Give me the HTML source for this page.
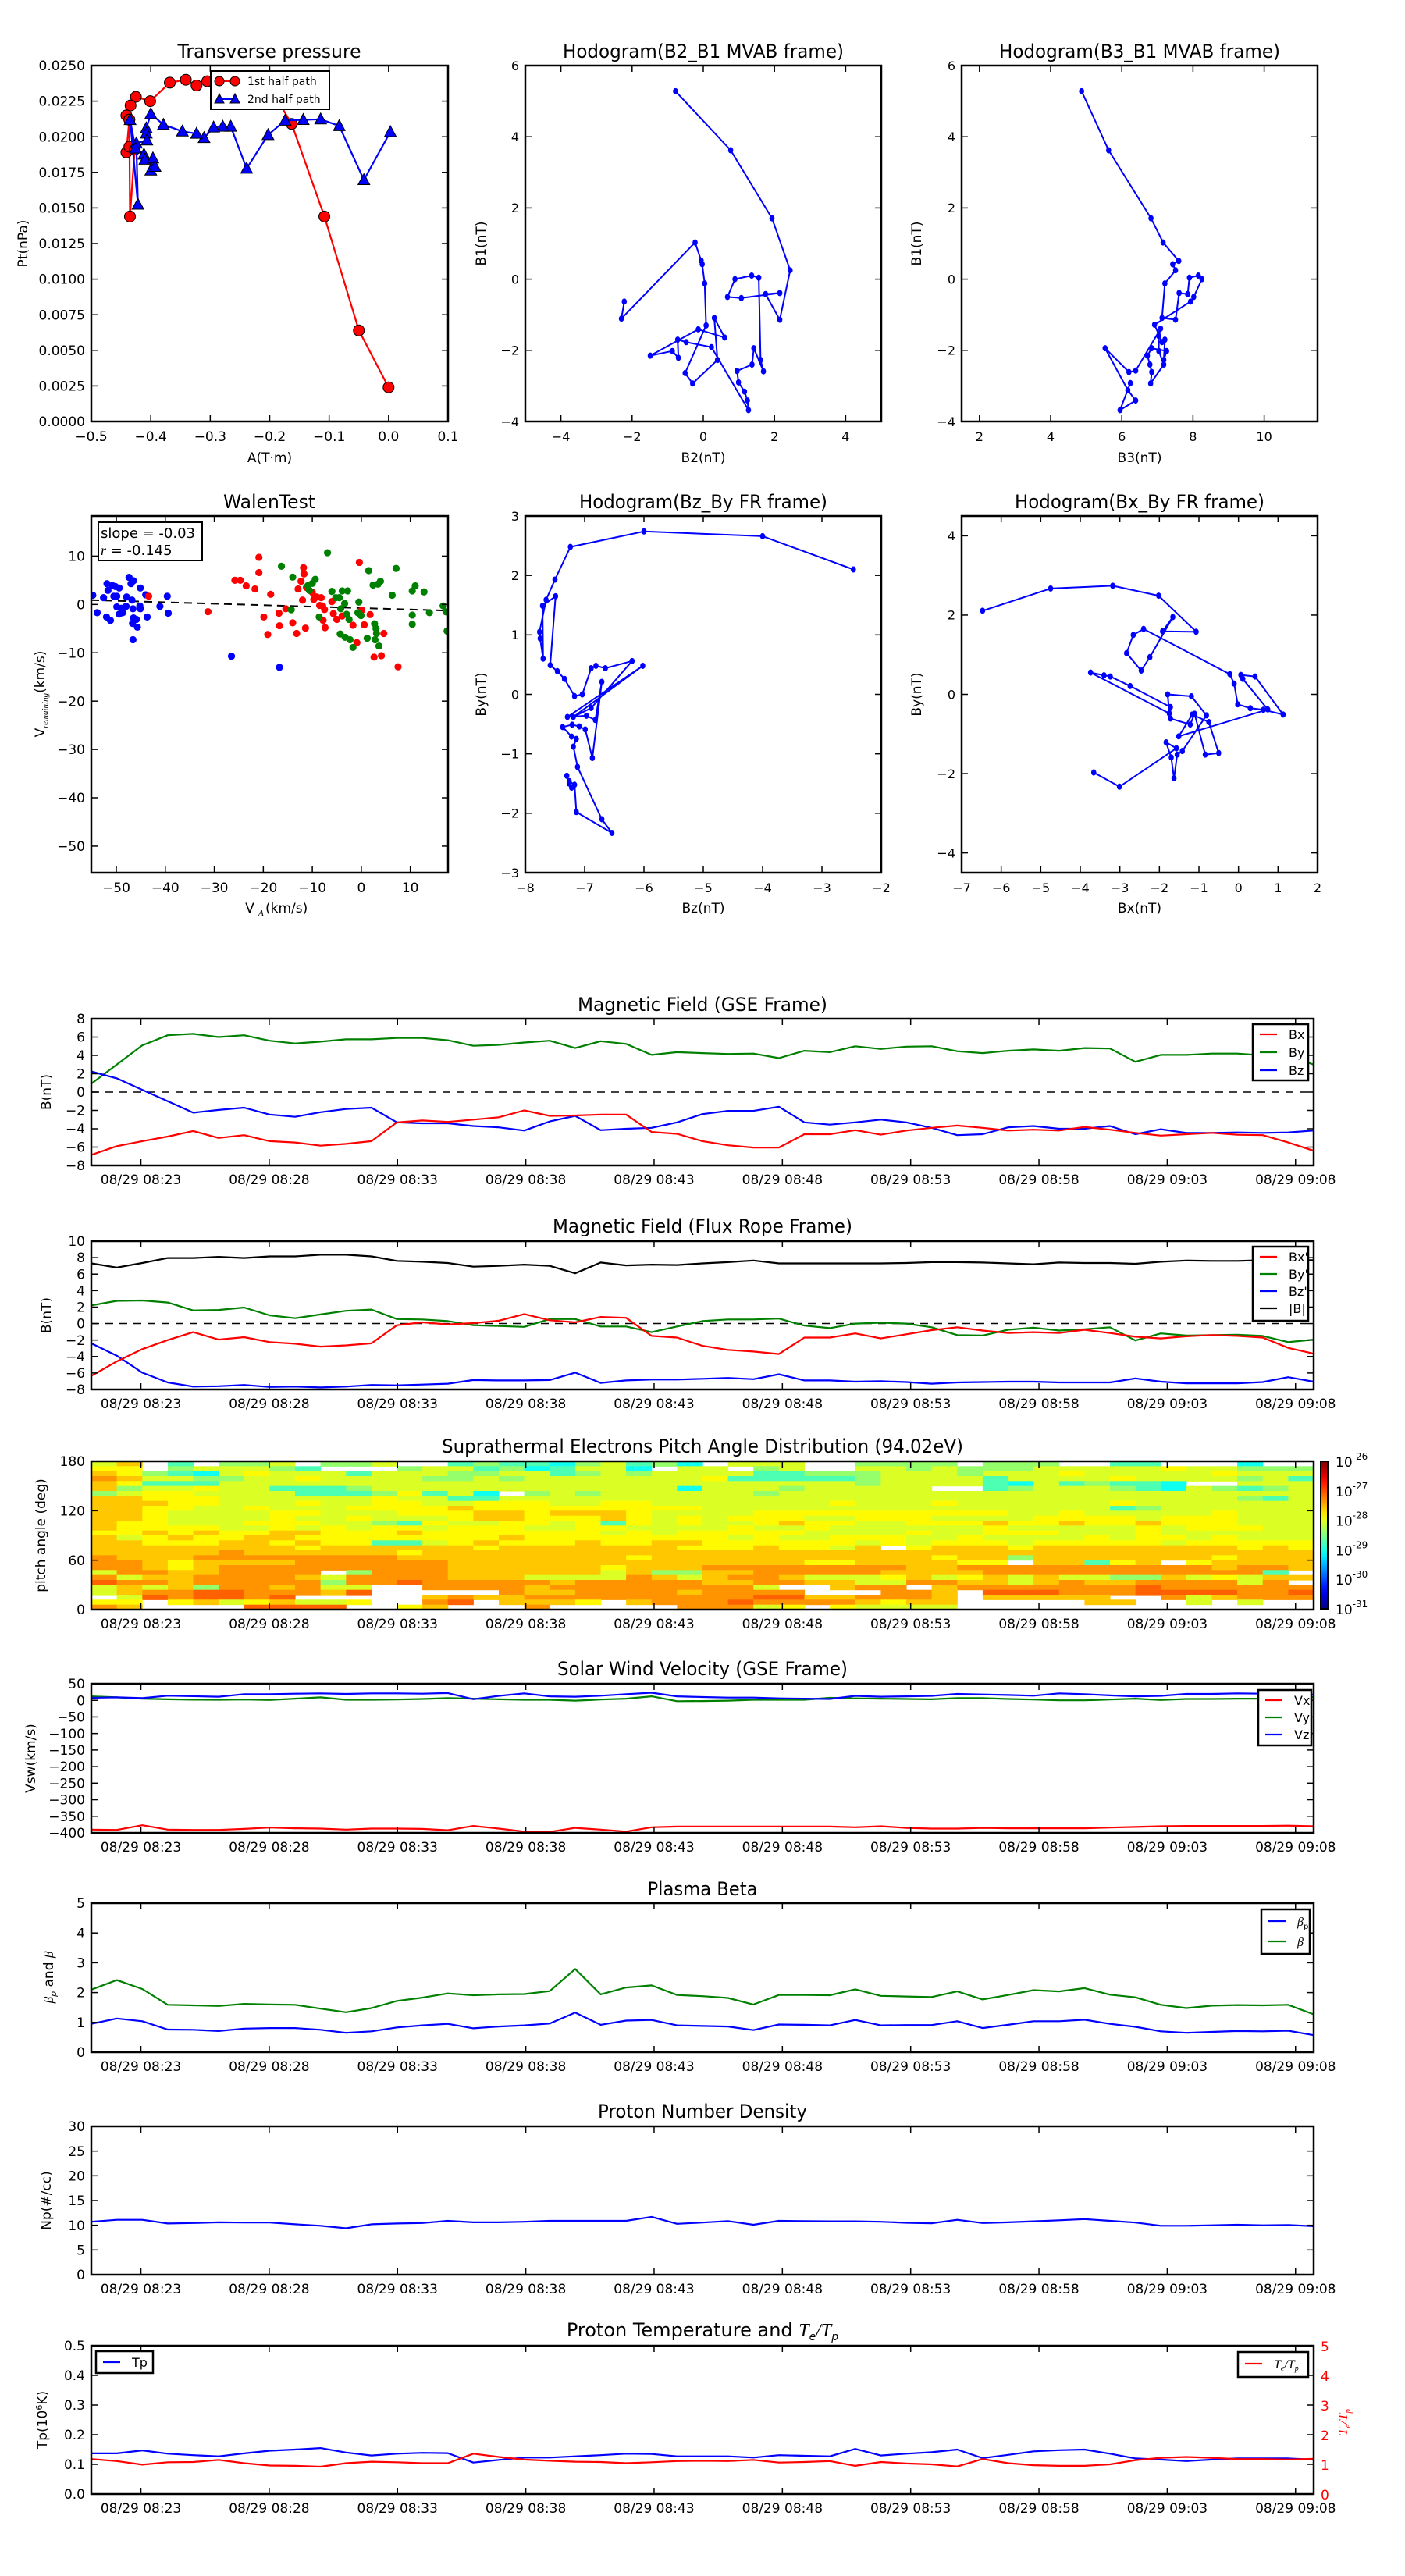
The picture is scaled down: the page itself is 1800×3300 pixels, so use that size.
<!DOCTYPE html>
<html><head><meta charset="utf-8"><title>Flux rope analysis</title>
<style>
html,body{margin:0;padding:0;background:#fff;}
svg{display:block;font-family:"DejaVu Sans","Liberation Sans",sans-serif;}
</style></head>
<body>
<svg id="fig" xmlns="http://www.w3.org/2000/svg" width="1800" height="3300" viewBox="0 0 1800 3300">
<rect x="0" y="0" width="1800" height="3300" fill="#fff"/>
<defs id="defs"></defs>
</svg>
<script>
// ---------- DATA ----------
const tsTickLabels = ['08/29 08:23','08/29 08:28','08/29 08:33','08/29 08:38','08/29 08:43','08/29 08:48','08/29 08:53','08/29 08:58','08/29 09:03','08/29 09:08'];
const tsTickMinutes = [503,508,513,518,523,528,533,538,543,548];
const gseBx = [-6.85,-5.9,-5.35,-4.85,-4.25,-5.0,-4.7,-5.35,-5.5,-5.85,-5.65,-5.35,-3.3,-3.1,-3.25,-3.0,-2.75,-2.0,-2.6,-2.55,-2.45,-2.45,-4.35,-4.55,-5.35,-5.8,-6.05,-6.05,-4.6,-4.6,-4.15,-4.65,-4.2,-3.9,-3.65,-3.9,-4.2,-4.1,-4.2,-3.8,-4.1,-4.45,-4.75,-4.6,-4.45,-4.65,-4.7,-5.5,-6.4];
const gseBy = [0.92,3.0,5.1,6.2,6.35,6.0,6.2,5.6,5.3,5.5,5.75,5.75,5.9,5.9,5.65,5.05,5.15,5.4,5.6,4.8,5.55,5.25,4.05,4.35,4.25,4.15,4.2,3.7,4.5,4.35,5.0,4.7,4.95,5.0,4.45,4.25,4.5,4.65,4.5,4.8,4.75,3.3,4.05,4.05,4.2,4.2,4.0,4.0,3.0];
const gseBz = [2.25,1.5,0.25,-1.0,-2.25,-1.95,-1.7,-2.45,-2.7,-2.2,-1.85,-1.7,-3.3,-3.4,-3.4,-3.7,-3.85,-4.2,-3.2,-2.6,-4.15,-4.0,-3.9,-3.3,-2.4,-2.05,-2.05,-1.6,-3.3,-3.55,-3.3,-3.0,-3.3,-3.9,-4.7,-4.6,-3.85,-3.7,-4.0,-4.0,-3.7,-4.6,-4.05,-4.45,-4.45,-4.4,-4.45,-4.4,-4.2];
const frBx = [-6.35,-4.6,-3.1,-2.0,-1.05,-1.95,-1.65,-2.25,-2.45,-2.8,-2.65,-2.4,-0.2,0.15,-0.1,0.05,0.35,1.15,0.4,0.15,0.8,0.7,-1.5,-1.7,-2.7,-3.2,-3.4,-3.7,-1.7,-1.7,-1.2,-1.8,-1.3,-0.8,-0.45,-0.85,-1.15,-1.05,-1.15,-0.75,-1.15,-1.6,-1.8,-1.55,-1.4,-1.5,-1.7,-2.95,-3.65];
const frBy = [2.2,2.75,2.8,2.55,1.6,1.65,1.95,1.0,0.65,1.1,1.55,1.7,0.55,0.5,0.3,-0.2,-0.3,-0.4,0.55,0.55,-0.35,-0.35,-1.05,-0.35,0.3,0.5,0.5,0.6,-0.25,-0.55,0.0,0.1,0.0,-0.45,-1.4,-1.45,-0.75,-0.5,-0.85,-0.7,-0.45,-2.05,-1.2,-1.45,-1.4,-1.35,-1.5,-2.25,-1.95];
const frBz = [-2.4,-3.9,-5.95,-7.15,-7.65,-7.6,-7.45,-7.7,-7.65,-7.75,-7.65,-7.45,-7.5,-7.4,-7.3,-6.85,-6.9,-6.9,-6.85,-5.95,-7.2,-6.9,-6.8,-6.8,-6.7,-6.6,-6.75,-6.15,-6.9,-6.9,-7.05,-7.0,-7.1,-7.3,-7.15,-7.1,-7.05,-7.05,-7.15,-7.15,-7.15,-6.65,-7.05,-7.25,-7.25,-7.25,-7.1,-6.5,-7.05];
const frBt = [7.3,6.8,7.35,7.95,7.95,8.1,7.95,8.15,8.15,8.35,8.35,8.15,7.6,7.5,7.35,6.9,7.0,7.15,7.0,6.1,7.4,7.05,7.15,7.1,7.3,7.45,7.65,7.3,7.3,7.3,7.3,7.3,7.35,7.45,7.45,7.4,7.3,7.2,7.4,7.35,7.35,7.25,7.5,7.65,7.6,7.6,7.7,7.7,7.7];
const swVx = [-390,-391,-377,-390,-391,-391,-388,-384,-386,-387,-390,-387,-387,-388,-392,-379,-387,-396,-397,-385,-390,-396,-383,-381,-381,-381,-381,-381,-381,-381,-383,-380,-385,-387,-387,-385,-386,-386,-386,-386,-384,-382,-380,-379,-379,-379,-379,-378,-380];
const swVy = [12,9,5,3,2,1.6,2.5,1,5,9,1.6,1.6,2.5,4,6.7,5,3,1.6,1.6,-1,2.5,5,12,-2.6,-2,-1,1.6,1.6,1.6,7.6,6,5,4,3,6.7,6.7,4,2.5,0,0,2.5,5,1,4,4,5,5,5,10];
const swVz = [7.6,9,6.7,14,12.6,11,18.6,18.6,20,21,19.4,21,21,20,22,3.3,13.5,21,12,11,14,18.6,22.8,12,10,8.4,8.4,6,5,4,13.5,11,12,13.5,19.4,17.7,16,14,21,18.6,15,12,13.5,19.4,19.4,21,20,20,17];
const betaP = [0.95,1.13,1.04,0.76,0.75,0.71,0.79,0.81,0.81,0.75,0.65,0.7,0.83,0.9,0.95,0.8,0.86,0.9,0.96,1.33,0.92,1.06,1.08,0.9,0.88,0.86,0.74,0.93,0.92,0.9,1.08,0.9,0.91,0.91,1.04,0.81,0.92,1.04,1.04,1.09,0.95,0.85,0.7,0.65,0.68,0.71,0.7,0.72,0.57];
const betaAll = [2.1,2.42,2.12,1.59,1.57,1.55,1.62,1.6,1.59,1.46,1.34,1.48,1.72,1.83,1.97,1.91,1.94,1.95,2.05,2.79,1.94,2.17,2.24,1.92,1.88,1.82,1.6,1.92,1.92,1.91,2.11,1.89,1.87,1.85,2.04,1.77,1.92,2.08,2.04,2.15,1.93,1.84,1.59,1.48,1.56,1.58,1.57,1.59,1.27];
const npDensity = [10.7,11.1,11.1,10.35,10.45,10.6,10.55,10.55,10.2,9.9,9.4,10.2,10.35,10.45,10.9,10.6,10.6,10.7,10.9,10.9,10.9,10.9,11.7,10.3,10.55,10.85,10.1,10.9,10.85,10.8,10.8,10.7,10.5,10.4,11.1,10.45,10.6,10.8,11.0,11.25,10.9,10.55,9.9,9.9,10.0,10.1,10.0,10.05,9.8];
const tpTemp = [0.137,0.137,0.147,0.136,0.131,0.127,0.137,0.146,0.150,0.155,0.140,0.130,0.136,0.139,0.138,0.106,0.115,0.123,0.123,0.127,0.131,0.136,0.135,0.127,0.127,0.127,0.123,0.131,0.129,0.127,0.152,0.130,0.136,0.141,0.150,0.121,0.132,0.144,0.148,0.150,0.136,0.120,0.116,0.111,0.116,0.120,0.120,0.120,0.116];
const teTpRatio = [1.18,1.11,0.99,1.07,1.08,1.15,1.04,0.96,0.95,0.92,1.04,1.09,1.07,1.04,1.04,1.36,1.25,1.16,1.12,1.09,1.08,1.04,1.07,1.11,1.12,1.11,1.15,1.06,1.08,1.11,0.95,1.08,1.03,1.0,0.93,1.18,1.04,0.97,0.95,0.95,1.0,1.14,1.22,1.25,1.22,1.18,1.18,1.16,1.19];
// PAD rows (top = 174-180 deg), one char per time bin
const padRows = [
"bd.g.aab.aab..gagghabgah.bbb..aaaa.aaa..gg...h..h.ha",
"cc.abbbag...abbgahgbbh.bb.ab..bbabaaabbbbbcbbaaaaag",
"dcaghbcbbbgbbbaabbgababbbbggaaabbbabbbcbbbbbcbbbgba",
"edbbaabbcbbbbaababbbbbbbcgggggabbbbgbbbbcbbbbabgab",
"dcgggbbbbbbbbbbbbbbbbbbbbbbbbbabbbbghbgaggh..bbbaab",
"dabbcbbgggabbbbbbbbbbbbhbbbabbbbb..gabbbaghbagabba",
"abccbbbbgggacgbh.ababbbbbbabbbbbbbbbbbbbbbbbbbbbbbb",
"ddcccbbbbbbcbbggbbbbbbbbbbbbbbbbbbbbbbbbbbbbbagbbb",
"dddccbbbcbbccbbcccbbccbbbbbbbcbbbcbbbbbbcbbbbbbbbb",
"ddccbbcbbbccccdcccccccccbbbbbbbbbbbbbbbbgabbbbbbbb",
"ddcbbbbccbbbcccddcdddcbbbbccccccccccbbcbbbbbcbbbcb",
"ddcbbbbcbbcbbbcddcccdcbcbcccbbcccbbbbccccbcccbbbcbb",
"dccbbbcccbbagcbbccbcgcbcbbcdccbbcccdccdccdcccbbbcb",
"dccccbbcbcbccbcccbbccbbbbcbbcbbbbbbcbbbbbcbcccbbcb",
"ccdcdccddcccdcccccccbcbcccccbbbbcbbcccbbbcbbbbbbcc",
"dbcdccddccccccccdccccccccbcbbcccbbcbbbbcbccbcbbbbbc",
"ddcccddcdccggbcdcccdccddccccccbcbcccbcccccbccccccbc",
"ddddddddcddddddcdddddddcccdccbd.cdddcddddddddcdcddb",
"dddddeddddddcdddddddddddddddddddddddddddddddddddcdd",
"edddeeeeeeeedddddddddcdddddddddddcddadddddddcdddddd",
"eedcddddeeeeeeddddddddddddddccddddcc.ddgcd.cddddeed",
"eedcdeeeeeeeeeddddddcdddeeeeeeeeddeeeeeeeeeedeedddd",
"beeddeeee.aeeeddddddbdaaddeeeeeddddeeeeeeeeeeeg...e",
"ebddeeeedbeeeedddbbbbedbdeedbbbcdbcdbdbbaadbcbddeeb",
"feedeeeeeaeefeeeeedeeeeeddeeddbbeeddbdeddeeeebe..eb",
"bdbdaeedebb..eeeedeeeeeeeeb..dee.deeeeeeefeeeeeeeeb",
"bdeeffeeedf.....eddeeeedeeee...eed.fffeeeffffeeffeb",
".bfeffef.....deddeeeeeeeeeffddeeed.ddddd..ebdeee..b",
"cc.cdbcdbbc..ef.dddc.deeefeeeedcdd.....dd..b.b...c",
"ed....ffff..cd...e.....eeebc.cbbbb................."
];
const padLevelChars = ['i','h','g','a','b','c','d','e','f'];
const padLevelLog = [-29.4,-29.05,-28.75,-28.4,-28.05,-27.85,-27.6,-27.35,-27.1];
// Transverse pressure
const tpRedA = [0.0,-0.05,-0.108,-0.163,-0.2,-0.25,-0.305,-0.323,-0.341,-0.368,-0.401,-0.425,-0.434,-0.441,-0.436,-0.441,-0.436,-0.427,-0.435,-0.436];
const tpRedPt = [0.0024,0.0064,0.0144,0.0209,0.0235,0.0240,0.0239,0.0236,0.0240,0.0238,0.0225,0.0228,0.0222,0.0215,0.0212,0.0189,0.0193,0.0191,0.0144,0.0212];
const tpBlueA = [0.003,-0.0415,-0.083,-0.1143,-0.1436,-0.174,-0.2028,-0.2387,-0.2655,-0.279,-0.2943,-0.3104,-0.323,-0.3468,-0.3787,-0.3999,-0.4075,-0.4075,-0.4065,-0.4242,-0.4216,-0.4348,-0.4257,-0.4115,-0.41,-0.3964,-0.3999,-0.3928];
const tpBluePt = [0.02034,0.01697,0.02076,0.02123,0.02119,0.02114,0.02013,0.01777,0.02072,0.02072,0.02066,0.01992,0.02022,0.02038,0.02085,0.02161,0.0206,0.02024,0.01975,0.01954,0.01524,0.02118,0.01918,0.01876,0.0184,0.01849,0.01764,0.0179];
// Walen test
const walenBlueX = [-54.8,-53.9,-52.6,-51.9,-51.7,-52.0,-51.2,-50.8,-50.2,-49.4,-50.5,-49.9,-49.9,-49.4,-48.96,-48.7,-47.9,-47.4,-47.0,-46.5,-48.0,-46.8,-46.6,-46.5,-46.7,-45.9,-45.7,-46.6,-45.2,-45.1,-45.1,-44.0,-43.7,-41.1,-39.6,-39.4,-26.5,-16.7];
const walenBlueY = [1.9,-1.7,1.4,4.3,2.9,-2.6,-3.3,3.9,3.7,3.4,1.7,1.7,-0.5,-2.0,-0.8,-1.7,1.55,5.6,4.3,4.9,-0.4,0.9,-0.9,-2.8,-3.9,-3.1,-4.7,-7.3,-0.3,-0.9,3.4,2.0,-2.6,-0.4,1.7,-1.8,-10.7,-13.0];
const walenRedX = [-43.4,-31.3,-25.8,-24.7,-23.5,-21.7,-20.9,-20.9,-19.9,-19.1,-18.5,-16.8,-16.7,-15.4,-14.0,-13.2,-12.9,-12.3,-11.8,-11.7,-12.0,-11.4,-11.2,-10.0,-9.7,-9.1,-8.2,-8.5,-7.9,-7.5,-7.8,-7.4,-6.0,-5.7,-5.0,-3.9,-1.7,-0.9,-0.4,0.1,0.6,1.8,2.6,4.1,4.6,7.5];
const walenRedY = [1.7,-1.5,5.0,5.0,3.85,3.2,9.75,6.6,-2.6,-6.2,2.1,-1.8,-4.4,-0.9,-3.8,-6.0,3.2,4.8,7.6,6.3,0.9,-4.9,3.5,2.5,1.05,1.55,1.4,-0.2,-0.3,-1.05,-3.3,-4.8,0.6,-1.9,-3.1,-2.4,-4.3,-7.9,8.7,-1.2,-4.2,-2.1,-10.9,-10.6,-6.0,-12.9];
const walenGreenX = [-16.3,-14.3,-14.0,-10.9,-10.6,-10.0,-9.4,-8.6,-6.9,-6.0,-5.2,-4.5,-4.2,-3.9,-3.4,-2.8,-3.0,-2.5,-4.3,-3.3,-2.3,-1.7,-0.5,-0.7,-0.06,1.5,1.2,2.4,3.4,3.9,2.7,3.0,3.1,2.8,3.6,6.3,7.1,10.4,11.0,10.4,10.4,12.8,13.9,16.7,17.3,17.5];
const walenGreenY = [7.9,-1.1,5.65,3.9,2.9,4.35,5.2,-2.6,10.7,2.7,1.4,1.4,-0.9,2.8,0.2,2.8,-2.05,-3.1,-6.1,-6.8,-7.3,-8.9,0.5,-1.7,-2.3,7.0,-7.0,4.0,4.2,4.8,-4.0,-5.0,-6.0,-7.3,-8.6,1.9,7.45,2.8,3.85,-2.2,-4.1,2.6,-1.7,-0.3,-1.55,-5.5];
const walenSlope = -0.03;
const walenIntercept = -0.75;
// Hodograms
const hodoB2 = [-0.78,0.77,1.93,2.44,2.15,1.75,2.15,1.07,0.68,0.89,1.36,1.56,1.61,1.69,1.42,1.37,0.95,0.99,1.16,1.24,1.27,0.23,-0.48,-0.72,-0.70,-0.87,-1.49,-0.14,0.60,0.31,0.40,-0.30,-0.51,0.08,0.04,-0.03,-0.06,-0.23,-2.30,-2.22];
const hodoB1a = [5.28,3.62,1.71,0.25,-1.14,-0.42,-0.39,-0.53,-0.50,0.0,0.10,0.04,-2.27,-2.59,-1.94,-2.40,-2.58,-2.90,-3.16,-3.41,-3.68,-1.91,-1.77,-1.70,-2.21,-2.02,-2.15,-1.41,-1.64,-1.09,-2.27,-2.93,-2.64,-1.30,-0.12,0.42,0.52,1.03,-1.11,-0.63];
const hodoB3 = [4.87,5.63,6.82,7.16,7.60,7.43,7.51,7.21,7.13,7.51,7.61,7.85,7.90,8.15,8.25,8.02,7.93,6.92,7.13,7.21,7.18,7.26,6.84,6.72,6.79,6.84,6.81,7.18,7.04,7.04,7.09,6.39,6.20,5.53,6.17,6.39,5.95,6.24];
const hodoB1b = [5.28,3.62,1.71,1.03,0.51,0.42,0.25,-0.12,-1.09,-1.14,-0.39,-0.42,0.04,0.10,0.0,-0.50,-0.63,-1.28,-1.77,-1.70,-2.27,-2.02,-1.94,-2.15,-2.40,-2.61,-2.93,-2.40,-2.02,-1.60,-1.39,-2.57,-2.61,-1.94,-3.12,-3.41,-3.68,-2.92];
const hodoBzFR = [-2.47,-4.0,-6.0,-7.24,-7.50,-7.65,-7.76,-7.75,-7.70,-7.71,-7.49,-7.58,-7.46,-7.34,-7.17,-7.04,-6.89,-6.81,-6.65,-6.20,-6.89,-7.19,-6.02,-7.29,-6.97,-6.82,-6.71,-6.87,-6.99,-7.09,-7.21,-7.37,-7.22,-7.14,-7.19,-7.12,-6.71,-6.54,-7.14,-7.17,-7.26,-7.30,-7.22,-7.26];
const hodoByFR1 = [2.10,2.66,2.74,2.48,1.93,1.59,1.05,0.94,0.60,1.49,1.65,0.49,0.39,0.26,-0.03,0.0,0.44,0.48,0.44,0.56,-0.23,-0.38,0.48,-0.38,-0.36,-0.43,0.21,-1.07,-0.59,-0.54,-0.51,-0.55,-0.71,-0.75,-0.88,-1.22,-2.10,-2.33,-1.98,-1.52,-1.46,-1.37,-1.57,-1.50];
const hodoBxFR = [-6.47,-4.75,-3.18,-2.02,-1.07,-1.92,-1.66,-2.24,-2.46,-2.83,-2.66,-2.40,-0.22,-0.11,-0.02,0.30,0.63,1.13,0.42,0.06,0.11,0.74,-1.51,-1.17,-0.75,-0.50,-0.84,-1.11,-1.22,-1.72,-1.72,-2.74,-3.24,-3.40,-3.74,-1.75,-1.79,-1.19,-0.81,-1.42,-1.55,-1.63,-1.70,-1.83,-1.57,-3.01,-3.66];
const hodoByFR2 = [2.11,2.67,2.74,2.49,1.58,1.59,1.95,0.94,0.60,1.04,1.50,1.65,0.51,0.27,-0.25,-0.35,-0.39,-0.51,0.45,0.49,0.39,-0.38,-1.06,-0.51,-0.70,-1.48,-1.52,-0.49,-0.76,-0.61,-0.32,0.21,0.45,0.48,0.55,-0.48,0.0,-0.05,-0.53,-1.43,-1.52,-2.12,-1.59,-1.21,-1.36,-2.33,-1.97];

// ---------- HELPERS ----------
const NS = 'http://www.w3.org/2000/svg';
const svg = document.getElementById('fig');
const defs = document.getElementById('defs');
let clipId = 0;
function mk(tag, attrs, parent) {
  const el = document.createElementNS(NS, tag);
  for (const k in attrs) el.setAttribute(k, attrs[k]);
  (parent || svg).appendChild(el);
  return el;
}
function tx(str, attrs, parent) {
  const el = mk('text', attrs, parent);
  el.textContent = str;
  return el;
}
function fmt(v, d) { const s = v.toFixed(d); return s.replace('-', '\u2212'); }

function axes(o) {
  const g = mk('g', {}, svg);
  
  
  const sx = v => o.x0 + (v - o.xmin) / (o.xmax - o.xmin) * (o.x1 - o.x0);
  const sy = v => o.y1 - (v - o.ymin) / (o.ymax - o.ymin) * (o.y1 - o.y0);
  clipId++;
  const cp = mk('clipPath', {id: 'c' + clipId}, defs);
  mk('rect', {x: o.x0, y: o.y0, width: o.x1 - o.x0, height: o.y1 - o.y0}, cp);
  const data = mk('g', {'clip-path': 'url(#c' + clipId + ')'}, g);
  
  
  const fr = mk('g', {}, g);
  const fs = o.fs || 17;
  const tl = 8;
  o.xt.forEach((v, i) => {
    const x = sx(v);
    const t1 = mk('line', {x1: x, x2: x, y1: o.y1, y2: o.y1 - tl, stroke: '#000', 'stroke-width': 1.5}, fr);
    
    const t2 = mk('line', {x1: x, x2: x, y1: o.y0, y2: o.y0 + tl, stroke: '#000', 'stroke-width': 1.5}, fr);
    
    const lb = tx(o.xl[i], {x: x, y: o.y1 + (o.xlOff || 25), 'font-size': fs, 'text-anchor': 'middle'}, fr);
    
    
  });
  o.yt.forEach((v, i) => {
    const y = sy(v);
    const t1 = mk('line', {x1: o.x0, x2: o.x0 + tl, y1: y, y2: y, stroke: '#000', 'stroke-width': 1.5}, fr);
    
    const t2 = mk('line', {x1: o.x1, x2: o.x1 - tl, y1: y, y2: y, stroke: '#000', 'stroke-width': 1.5}, fr);
    
    const lb = tx(o.yl[i], {x: o.x0 - 8, y: y + fs * 0.36, 'font-size': fs, 'text-anchor': 'end'}, fr);
    
    
  });
  const frame = mk('rect', {x: o.x0, y: o.y0, width: o.x1 - o.x0, height: o.y1 - o.y0, fill: 'none', stroke: '#000', 'stroke-width': 2.5}, fr);
  
  
  if (o.title) {
    const t = tx(o.title, {x: o.tx, y: o.ty, 'font-size': 24, 'text-anchor': 'middle', textLength: o.tw, lengthAdjust: 'spacingAndGlyphs'}, g);
    
    
  }
  if (o.xtitle) {
    const t = tx(o.xtitle, {x: (o.x0 + o.x1) / 2, y: o.xty, 'font-size': 17, 'text-anchor': 'middle'}, g);
    
    
  }
  if (o.ytitle) {
    const cy = (o.y0 + o.y1) / 2;
    const t = tx(o.ytitle, {x: o.ytx, y: cy, 'font-size': 17, 'text-anchor': 'middle', transform: 'rotate(-90 ' + o.ytx + ' ' + cy + ')'}, g);
    
    
  }
  return {sx, sy, data, g, fr};
}
function polyline(xs, ys, sx, sy, color, parent, w) {
  const pts = xs.map((x, i) => sx(x).toFixed(1) + ',' + sy(ys[i]).toFixed(1)).join(' ');
  return mk('polyline', {points: pts, fill: 'none', stroke: color, 'stroke-width': w || 2.2, 'stroke-linejoin': 'round'}, parent);
}
function range(a, b, s) { const r = []; for (let v = a; v <= b + 1e-9; v += s) r.push(+v.toFixed(6)); return r; }
function jet(v) {
  const c = x => Math.max(0, Math.min(1, x));
  const r = c(1.5 - Math.abs(4 * v - 3)), g = c(1.5 - Math.abs(4 * v - 2)), b = c(1.5 - Math.abs(4 * v - 1));
  return 'rgb(' + Math.round(r * 255) + ',' + Math.round(g * 255) + ',' + Math.round(b * 255) + ')';
}

// ---------- TOP ROW ----------
(function () {
  const yt = range(0, 0.025, 0.0025);
  const xt = range(-0.5, 0.1, 0.1);
  const ax = axes({name: 'transverse-pressure-chart', x0: 117, x1: 574, y0: 84, y1: 540, xmin: -0.5, xmax: 0.1, ymin: 0, ymax: 0.025,
    xt: xt, xl: xt.map(v => fmt(v, 1)), yt: yt, yl: yt.map(v => v.toFixed(4)),
    title: 'Transverse pressure', tx: 345, ty: 74, tw: 235, xtitle: 'A(T\u00b7m)', xty: 592, ytitle: 'Pt(nPa)', ytx: 35});
  const l1 = polyline(tpRedA, tpRedPt, ax.sx, ax.sy, '#ff0000', ax.data, 2.2);
  
  
  tpRedA.forEach((a, i) => {
    const c = mk('circle', {cx: ax.sx(a), cy: ax.sy(tpRedPt[i]), r: 7, fill: '#ff0000', stroke: '#000', 'stroke-width': 1}, ax.data);
    
    
  });
  const l2 = polyline(tpBlueA, tpBluePt, ax.sx, ax.sy, '#0000ff', ax.data, 2.2);
  
  
  tpBlueA.forEach((a, i) => {
    const x = ax.sx(a), y = ax.sy(tpBluePt[i]);
    const t = mk('polygon', {points: (x) + ',' + (y - 8) + ' ' + (x - 7.5) + ',' + (y + 6) + ' ' + (x + 7.5) + ',' + (y + 6), fill: '#0000ff', stroke: '#000', 'stroke-width': 1}, ax.data);
    
    
  });
  const lg = mk('g', {}, ax.g);
  
  
  mk('rect', {x: 270, y: 91, width: 152, height: 49, fill: '#fff', stroke: '#000', 'stroke-width': 2}, lg);
  mk('line', {x1: 281, x2: 301, y1: 104, y2: 104, stroke: '#ff0000', 'stroke-width': 2}, lg);
  mk('circle', {cx: 281, cy: 104, r: 6, fill: '#ff0000', stroke: '#000'}, lg);
  mk('circle', {cx: 301, cy: 104, r: 6, fill: '#ff0000', stroke: '#000'}, lg);
  const e1 = tx('1st half path', {x: 317, y: 109, 'font-size': 14}, lg);
  
  mk('line', {x1: 281, x2: 301, y1: 127, y2: 127, stroke: '#0000ff', 'stroke-width': 2}, lg);
  mk('polygon', {points: '281,120 275,132 287,132', fill: '#0000ff', stroke: '#000'}, lg);
  mk('polygon', {points: '301,120 295,132 307,132', fill: '#0000ff', stroke: '#000'}, lg);
  const e2 = tx('2nd half path', {x: 317, y: 132, 'font-size': 14}, lg);
  
})();

function hodo(name, x0, x1, y0, y1, xmin, xmax, ymin, ymax, xt, yt, title, tcx, tw, ty, xtitle, xty, ytitle, ytx, xs, ys) {
  const ax = axes({name: name, x0: x0, x1: x1, y0: y0, y1: y1, xmin: xmin, xmax: xmax, ymin: ymin, ymax: ymax,
    xt: xt, xl: xt.map(v => fmt(v, 0)), yt: yt, yl: yt.map(v => fmt(v, 0)), fs: 16,
    title: title, tx: tcx, ty: ty, tw: tw, xtitle: xtitle, xty: xty, ytitle: ytitle, ytx: ytx});
  const l = polyline(xs, ys, ax.sx, ax.sy, '#0000ff', ax.data, 2);
  
  
  xs.forEach((x, i) => {
    const c = mk('ellipse', {cx: ax.sx(x), cy: ax.sy(ys[i]), rx: 3.3, ry: 4, fill: '#0000ff'}, ax.data);
    
    
  });
}
hodo('hodogram-b2-b1', 673, 1129, 84, 540, -5, 5, -4, 6, range(-4, 4, 2), range(-4, 6, 2), 'Hodogram(B2_B1 MVAB frame)', 901, 360, 74, 'B2(nT)', 592, 'B1(nT)', 622, hodoB2, hodoB1a);
hodo('hodogram-b3-b1', 1232, 1688, 84, 540, 1.5, 11.5, -4, 6, range(2, 10, 2), range(-4, 6, 2), 'Hodogram(B3_B1 MVAB frame)', 1460, 360, 74, 'B3(nT)', 592, 'B1(nT)', 1180, hodoB3, hodoB1b);
hodo('hodogram-bz-by', 673, 1129, 661, 1118, -8, -2, -3, 3, range(-8, -2, 1), range(-3, 3, 1), 'Hodogram(Bz_By FR frame)', 901, 318, 651, 'Bz(nT)', 1169, 'By(nT)', 622, hodoBzFR, hodoByFR1);
hodo('hodogram-bx-by', 1232, 1688, 661, 1118, -7, 2, -4.5, 4.5, range(-7, 2, 1), range(-4, 4, 2), 'Hodogram(Bx_By FR frame)', 1460, 320, 651, 'Bx(nT)', 1169, 'By(nT)', 1180, hodoBxFR, hodoByFR2);

(function () {
  const xt = range(-50, 10, 10), yt = range(-50, 10, 10);
  const ax = axes({name: 'walen-test-chart', x0: 117, x1: 574, y0: 661, y1: 1118, xmin: -55.1, xmax: 17.7, ymin: -55.5, ymax: 18.3,
    xt: xt, xl: xt.map(v => fmt(v, 0)), yt: yt, yl: yt.map(v => fmt(v, 0)),
    title: 'WalenTest', tx: 345, ty: 651, tw: 118, ytx: 52});
  const xl = tx('V', {x: 320, y: 1169, 'font-size': 17, 'text-anchor': 'middle'}, ax.g);
  
  const xsub = tx('A', {x: 331, y: 1173, 'font-size': 11, 'font-style': 'italic', 'font-family': 'Liberation Serif, serif'}, ax.g);
  
  const xl2 = tx('(km/s)', {x: 340, y: 1169, 'font-size': 17}, ax.g);
  
  const yt1 = mk('text', {x: 57, y: 889, 'font-size': 17, 'text-anchor': 'middle', transform: 'rotate(-90 57 889)'}, ax.g);
  
  yt1.innerHTML = 'V<tspan font-size="11" font-style="italic" font-family="Liberation Serif, serif" dy="4">remaining</tspan><tspan dy="-4">(km/s)</tspan>';
  const fit = mk('line', {x1: ax.sx(-55.1), y1: ax.sy(walenSlope * -55.1 + walenIntercept), x2: ax.sx(17.7), y2: ax.sy(walenSlope * 17.7 + walenIntercept), stroke: '#000', 'stroke-width': 2, 'stroke-dasharray': '10,7'}, ax.data);
  
  
  [[walenBlueX, walenBlueY, '#0000ff', 'walen-point-blue'], [walenRedX, walenRedY, '#ff0000', 'walen-point-red'], [walenGreenX, walenGreenY, '#008000', 'walen-point-green']].forEach(s => {
    s[0].forEach((x, i) => {
      const c = mk('circle', {cx: ax.sx(x), cy: ax.sy(s[1][i]), r: 4.6, fill: s[2]}, ax.data);
      
      
    });
  });
  const box = mk('g', {}, ax.g);
  
  
  mk('rect', {x: 126, y: 669, width: 133, height: 49, fill: '#fff', stroke: '#000', 'stroke-width': 2}, box);
  tx('slope = ' + walenSlope.toFixed(2), {x: 129, y: 689, 'font-size': 18}, box);
  const r = mk('text', {x: 129, y: 711, 'font-size': 18}, box);
  r.innerHTML = '<tspan font-style="italic" font-family="Liberation Serif, serif">r</tspan> = -0.145';
})();

// ---------- TIME SERIES ----------
const startMin = 501.067, cadence = 0.9925, nPts = 49;
const tsTimes = Array.from({length: nPts}, (_, i) => startMin + i * cadence);
const tEnd = startMin + (nPts - 1) * cadence;
function tsPanel(name, y0, y1, ymin, ymax, yt, yl, title, tw, ty, ytitle, ytx) {
  return axes({name: name, x0: 117, x1: 1683, y0: y0, y1: y1, xmin: startMin, xmax: tEnd, ymin: ymin, ymax: ymax,
    xt: tsTickMinutes, xl: tsTickLabels, xlOff: 24, yt: yt, yl: yl, fs: 17,
    title: title, tx: 900, ty: ty, tw: tw, ytitle: ytitle, ytx: ytx});
}
function series(ax, vals, color, nm) {
  const l = polyline(tsTimes, vals, ax.sx, ax.sy, color, ax.data, 2.2);
  
  
}
function zeroLine(ax) {
  const z = mk('line', {x1: 117, x2: 1683, y1: ax.sy(0), y2: ax.sy(0), stroke: '#000', 'stroke-width': 1.5, 'stroke-dasharray': '10,8'}, ax.data);
  
  
}
function legend(parent, x, y, w, h, entries, dy, rowH) {
  const lg = mk('g', {}, parent);
  
  
  mk('rect', {x: x, y: y, width: w, height: h, fill: '#fff', stroke: '#000', 'stroke-width': 2.5}, lg);
  entries.forEach((e, i) => {
    const yy = y + dy + i * rowH;
    mk('line', {x1: x + 9, x2: x + 31, y1: yy, y2: yy, stroke: e[1], 'stroke-width': 2.2}, lg);
    const t = mk('text', {x: x + 46, y: yy + 6, 'font-size': 16}, lg);
    t.innerHTML = e[0];
    
  });
  return lg;
}
const num = (d) => (v) => fmt(v, d);

(function () {
  const yt = range(-8, 8, 2);
  const ax = tsPanel('magnetic-field-gse-chart', 1305, 1493, -8, 8, yt, yt.map(num(0)), 'Magnetic Field (GSE Frame)', 320, 1295, 'B(nT)', 65);
  zeroLine(ax);
  series(ax, gseBy, '#008000', 'by-line');
  series(ax, gseBz, '#0000ff', 'bz-line');
  series(ax, gseBx, '#ff0000', 'bx-line');
  legend(ax.g, 1605, 1312, 71, 72, [['Bx', '#ff0000'], ['By', '#008000'], ['Bz', '#0000ff']], 13, 23);
})();
(function () {
  const yt = range(-8, 10, 2);
  const ax = tsPanel('magnetic-field-flux-rope-chart', 1590, 1780, -8, 10, yt, yt.map(num(0)), 'Magnetic Field (Flux Rope Frame)', 384, 1579, 'B(nT)', 65);
  zeroLine(ax);
  series(ax, frBt, '#000000', 'btotal-line');
  series(ax, frBy, '#008000', 'by-prime-line');
  series(ax, frBz, '#0000ff', 'bz-prime-line');
  series(ax, frBx, '#ff0000', 'bx-prime-line');
  legend(ax.g, 1605, 1597, 71, 95, [["Bx'", '#ff0000'], ["By'", '#008000'], ["Bz'", '#0000ff'], ['|B|', '#000000']], 13, 22);
})();
(function () {
  const yt = [0, 60, 120, 180];
  const ax = tsPanel('pitch-angle-distribution-chart', 1872, 2062, 0, 180, yt, yt.map(String), 'Suprathermal Electrons Pitch Angle Distribution (94.02eV)', 668, 1861, 'pitch angle (deg)', 58);
  const nCols = nPts - 1;
  padRows.forEach((row, r) => {
    const a1 = 180 - r * 6, a0 = a1 - 6;
    for (let j = 0; j < nCols; j++) {
      const ch = row[j] || '.';
      const k = padLevelChars.indexOf(ch);
      if (k < 0) continue;
      const v = (padLevelLog[k] + 31) / 5;
      const xL = ax.sx(tsTimes[j]), xR = ax.sx(tsTimes[j + 1]);
      const c = mk('rect', {x: xL.toFixed(1), y: ax.sy(a1).toFixed(1), width: (xR - xL + 0.6).toFixed(1), height: (ax.sy(a0) - ax.sy(a1) + 0.6).toFixed(1), fill: jet(v)}, ax.data);
      
      
    }
  });
  const cb = mk('g', {}, svg);
  
  
  const grad = mk('linearGradient', {id: 'jetgrad', x1: 0, y1: 1, x2: 0, y2: 0}, defs);
  for (let i = 0; i <= 20; i++) mk('stop', {offset: i / 20, 'stop-color': jet(i / 20)}, grad);
  mk('rect', {x: 1692, y: 1872, width: 9, height: 189, fill: 'url(#jetgrad)', stroke: '#000', 'stroke-width': 2}, cb);
  const cbExp = [-26, -27, -28, -29, -30, -31];
  cbExp.forEach((e, i) => {
    const y = 1872 + i * 189 / 5;
    const t = mk('text', {x: 1711, y: y + 7, 'font-size': 17}, cb);
    t.innerHTML = '10<tspan font-size="12" dy="-9">' + e + '</tspan>';
    
  });
})();
(function () {
  const yt = range(-400, 50, 50);
  const ax = tsPanel('solar-wind-velocity-chart', 2157, 2348, -400, 50, yt, yt.map(num(0)), 'Solar Wind Velocity (GSE Frame)', 372, 2146, 'Vsw(km/s)', 45);
  series(ax, swVx, '#ff0000', 'vx-line');
  series(ax, swVy, '#008000', 'vy-line');
  series(ax, swVz, '#0000ff', 'vz-line');
  legend(ax.g, 1612, 2165, 68, 71, [['Vx', '#ff0000'], ['Vy', '#008000'], ['Vz', '#0000ff']], 13, 22);
})();
(function () {
  const yt = range(0, 5, 1);
  const ax = tsPanel('plasma-beta-chart', 2438, 2629, 0, 5, yt, yt.map(String), 'Plasma Beta', 141, 2428, null, 0);
  const t = mk('text', {x: 68, y: 2533, 'font-size': 17, 'text-anchor': 'middle', transform: 'rotate(-90 68 2533)'}, ax.g);
  
  t.innerHTML = '<tspan font-style="italic" font-family="Liberation Serif, serif">\u03b2</tspan><tspan font-size="11" dy="4" font-style="italic">p</tspan><tspan dy="-4"> and </tspan><tspan font-style="italic" font-family="Liberation Serif, serif">\u03b2</tspan>';
  series(ax, betaAll, '#008000', 'beta-line');
  series(ax, betaP, '#0000ff', 'beta-p-line');
  legend(ax.g, 1616, 2446, 62, 57, [['<tspan font-style="italic" font-family="Liberation Serif, serif">\u03b2</tspan><tspan font-size="10" dy="4">p</tspan>', '#0000ff'], ['<tspan font-style="italic" font-family="Liberation Serif, serif">\u03b2</tspan>', '#008000']], 15, 26);
})();
(function () {
  const yt = range(0, 30, 5);
  const ax = tsPanel('proton-density-chart', 2724, 2914, 0, 30, yt, yt.map(String), 'Proton Number Density', 268, 2713, 'Np(#/cc)', 65);
  series(ax, npDensity, '#0000ff', 'density-line');
})();
(function () {
  const yt = range(0, 0.5, 0.1);
  const ax = tsPanel('proton-temperature-chart', 3005, 3195, 0, 0.5, yt, yt.map(v => v.toFixed(1)), '', 0, 0, null, 0);
  const ttl = mk('text', {x: 900, y: 2993, 'font-size': 24, 'text-anchor': 'middle'}, ax.g);
  
  ttl.innerHTML = 'Proton Temperature and <tspan font-style="italic" font-family="Liberation Serif, serif">T</tspan><tspan font-size="14" dy="5" font-style="italic">e</tspan><tspan dy="-5" font-style="italic" font-family="Liberation Serif, serif">/T</tspan><tspan font-size="14" dy="5" font-style="italic">p</tspan>';
  const yl = mk('text', {x: 60, y: 3100, 'font-size': 17, 'text-anchor': 'middle', transform: 'rotate(-90 60 3100)'}, ax.g);
  
  yl.innerHTML = 'Tp(10<tspan font-size="11" dy="-6">6</tspan><tspan dy="6">K)</tspan>';
  const rmin = 0, rmax = 5;
  const sy2 = v => 3195 - (v - rmin) / (rmax - rmin) * 190;
  range(0, 5, 1).forEach(v => {
    const t = tx(String(v), {x: 1692, y: sy2(v) + 7, 'font-size': 17, fill: '#ff0000'}, ax.g);
    
  });
  const ry = mk('text', {x: 1726, y: 3103, 'font-size': 17, fill: '#ff0000', 'text-anchor': 'middle', 'font-style': 'italic', 'font-family': 'Liberation Serif, serif', transform: 'rotate(-90 1726 3103)'}, ax.g);
  
  ry.innerHTML = 'T<tspan font-size="11" dy="4">e</tspan><tspan dy="-4">/T</tspan><tspan font-size="11" dy="4">p</tspan>';
  series(ax, tpTemp, '#0000ff', 'tp-line');
  const l = polyline(tsTimes, teTpRatio, ax.sx, sy2, '#ff0000', ax.data, 2.2);
  
  
  legend(ax.g, 123, 3012, 73, 28, [['Tp', '#0000ff']], 14, 0);
  legend(ax.g, 1586, 3013, 90, 32, [['<tspan font-style="italic" font-family="Liberation Serif, serif">T<tspan font-size="10" dy="3">e</tspan><tspan dy="-3">/T</tspan><tspan font-size="10" dy="3">p</tspan></tspan>', '#ff0000']], 15, 0);
})();
</script>
</body></html>
